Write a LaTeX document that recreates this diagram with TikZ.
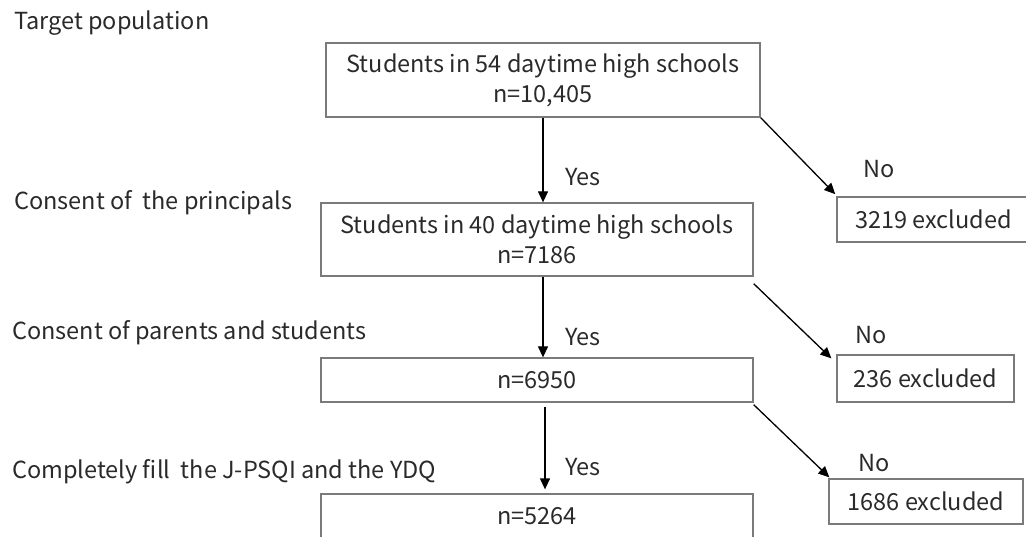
\documentclass[tikz,border=0pt]{standalone}
\usepackage{fontspec}
\setmainfont{Noto Sans CJK JP}
\usetikzlibrary{arrows.meta}
\definecolor{boxgray}{HTML}{7A7A7A}
\definecolor{txt}{HTML}{2A2A2A}
\begin{document}
\begin{tikzpicture}[x=1pt,y=-1pt,
  every node/.style={text=txt, font=\fontsize{23.5}{30}\selectfont},
  flowbox/.style={draw=boxgray, line width=1.3pt, inner sep=0pt, align=center},
  lbl/.style={anchor=west, inner sep=0pt},
  arr/.style={draw=black, line width=1.3pt, -{Triangle[length=11pt,width=10pt]}}]
\useasboundingbox (0,0) rectangle (1026,537);
\begin{scope}
\clip (0,0) rectangle (1026,537);
% main boxes
\node[flowbox, minimum width=434pt, minimum height=74pt] (b1) at (543,80) {Students in 54 daytime high schools\\n=10,405};
\node[flowbox, minimum width=432pt, minimum height=73pt] (b2) at (537,239.5) {Students in 40 daytime high schools\\n=7186};
\node[flowbox, minimum width=432pt, minimum height=44pt] (b3) at (537,380) {n=6950};
\node[flowbox, minimum width=432pt, minimum height=44.5pt] (b4) at (537,516.25) {n=5264};
% excluded boxes
\node[flowbox, minimum width=193pt, minimum height=45pt] (e1) at (933.5,219.5) {3219 excluded};
\node[flowbox, minimum width=177pt, minimum height=47pt] (e2) at (925.5,378.5) {236 excluded};
\node[flowbox, minimum width=194pt, minimum height=45pt] (e3) at (926,501.5) {1686 excluded};
\end{scope}
% left labels
\node[lbl] (t1) at (14,23) {Target population};
\node[lbl] (t2) at (14,203) {Consent of\ \ the principals};
\node[lbl] (t3) at (12,333) {Consent of parents and students};
\node[lbl] (t4) at (12,472) {Completely fill\ \ the J-PSQI and the YDQ};
% yes / no labels
\node[lbl] (y1) at (565,177) {Yes};
\node[lbl] (y2) at (565,337) {Yes};
\node[lbl] (y3) at (565,467) {Yes};
\node[lbl] (n1) at (863,169) {No};
\node[lbl] (n2) at (855,335) {No};
\node[lbl] (n3) at (858,463) {No};
% vertical arrows
\coordinate (c1) at (543,0);
\draw[arr] (b1.south) -- (b1.south |- b2.north);
\draw[arr] (b2.south -| c1) -- (b3.north -| c1);
\draw[arr, shorten <=4pt, shorten >=4pt] ([xshift=2pt]b3.south -| c1) -- ([xshift=2pt]b4.north -| c1);
% diagonal arrows
\draw[arr, shorten >=3pt] (b1.south east) -- ([xshift=1pt]e1.north west);
\draw[arr] ([yshift=-7pt]b2.south east) -- ([xshift=-5pt,yshift=-4pt]e2.north west);
\draw[arr] ([yshift=-2pt]b3.south east) -- ([xshift=1pt,yshift=1pt]e3.north west);
\end{tikzpicture}
\end{document}
